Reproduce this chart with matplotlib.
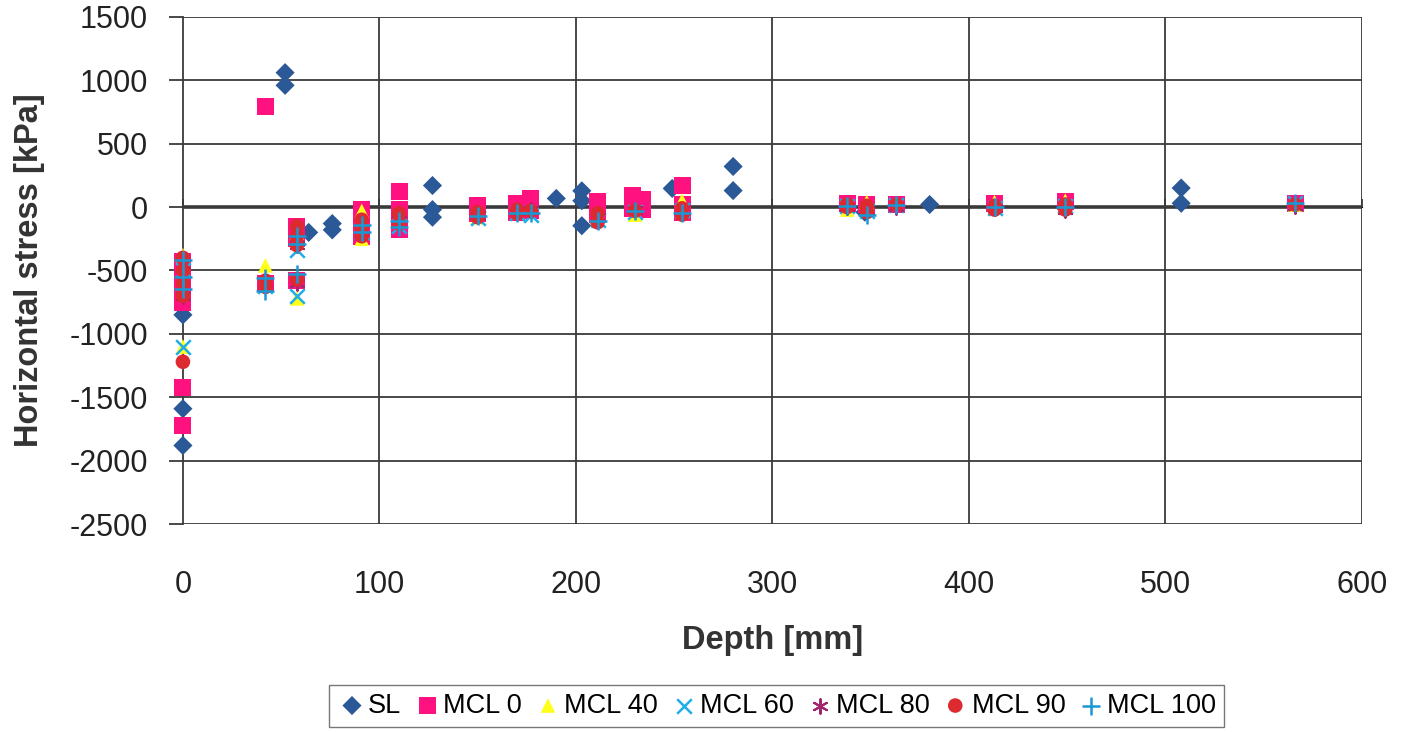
import matplotlib
matplotlib.use("Agg")
import matplotlib.pyplot as plt

plt.rcParams['font.family'] = ['Liberation Sans', 'DejaVu Sans']

# ---- data (depth [mm], horizontal stress [kPa]) ----
sl_x = [0, 0, 0, 52, 52, 64, 76, 76, 127, 127, 127, 190, 203, 203, 203, 249, 280, 280, 347, 380, 508, 508]
sl_y = [-1880, -1590, -850, 1060, 960, -200, -130, -180, 170, -20, -80, 68, 128, 50, -147, 147, 320, 130, -40, 20, 150, 30]

mcl0_x = [0, 0, 0, 0, 0, 0, 0, 42, 42, 58, 58, 58, 91, 91, 91, 110, 110, 110, 110, 150, 150, 170, 170, 177, 177,
          211, 211, 229, 229, 234, 234, 254, 254, 254, 338, 348, 363, 413, 449, 566]
mcl0_y = [-1720, -1420, -750, -680, -600, -520, -430, 790, -600, -150, -250, -580, -20, -150, -230, 120, -20, -100, -180,
          10, -50, 30, -40, 70, -30, 40, -60, 90, -10, 60, -20, 170, 20, -40, 25, 20, 20, 30, 40, 30]

mcl40_x = [0, 0, 42, 58, 58, 91, 91, 110, 150, 211, 230, 254, 254, 338, 348, 413, 449, 566]
mcl40_y = [-380, -1100, -460, -720, -200, -30, -250, -60, -80, -100, -60, 50, -30, -20, 40, 40, 50, 20]

mcl60_x = [0, 0, 42, 58, 58, 91, 110, 150, 170, 177, 211, 230, 254, 338, 348, 363, 413, 449, 566]
mcl60_y = [-1100, -500, -620, -700, -340, -200, -150, -90, -50, -60, -100, -40, -20, 10, -30, 20, -10, 10, 30]

mcl80_x = [0, 0, 42, 58, 58, 91, 110, 150, 170, 177, 211, 230, 254, 338, 348, 363, 413, 449, 566]
mcl80_y = [-450, -700, -600, -300, -600, -180, -100, -60, -30, -20, -80, -20, -20, 0, -20, 0, -10, -20, 10]

mcl90_x = [0, 0, 0, 0, 0, 42, 42, 58, 58, 58, 58, 91, 91, 91, 110, 110, 150, 150, 170, 170, 177,
           211, 211, 230, 254, 254, 338, 338, 348, 348, 363, 413, 413, 449, 449, 566]
mcl90_y = [-400, -500, -600, -700, -1220, -580, -630, -150, -230, -300, -570, -100, -160, -230, -50, -130,
           -40, -80, -20, -50, -30, -50, -120, -30, -10, -60, 0, 20, 10, -40, 20, 10, -20, 20, -20, 20]

mcl100_x = [0, 0, 0, 42, 42, 58, 58, 58, 91, 91, 110, 110, 150, 170, 177, 211, 230, 254, 338, 348, 363, 413, 449, 566]
mcl100_y = [-420, -550, -650, -560, -660, -230, -290, -530, -140, -200, -110, -160, -70, -50, -50, -110, -30, -50,
            10, -60, 20, 0, 0, 30]

x_ticks = [0, 100, 200, 300, 400, 500, 600]
y_ticks = [-2500, -2000, -1500, -1000, -500, 0, 500, 1000, 1500]

fig = plt.figure(figsize=(14.07, 7.32), dpi=100)
ax = fig.add_axes([0.130, 0.284, 0.838, 0.693])

grid_c = '#3a3a3a'
ax.set_xlim(0, 600)
ax.set_ylim(-2500, 1500)
for v in x_ticks[1:]:
    ax.axvline(v, color=grid_c, lw=1.3, zorder=1)
for v in y_ticks:
    if v == 0:
        ax.axhline(v, color=grid_c, lw=2.6, zorder=1)
    else:
        ax.axhline(v, color=grid_c, lw=1.3, zorder=1)

for s in ['top', 'right', 'bottom']:
    ax.spines[s].set_visible(False)
ax.spines['left'].set_color(grid_c)
ax.spines['left'].set_linewidth(1.3)

kw = dict(clip_on=False)
ax.scatter(sl_x, sl_y, marker='D', s=95, color='#2b5897', edgecolors='none', zorder=3, label='SL', **kw)
ax.scatter(mcl0_x, mcl0_y, marker='s', s=150, color='#ff1280', edgecolors='none', zorder=3, label='MCL 0', **kw)
ax.scatter(mcl40_x, mcl40_y, marker='^', s=110, color='#ffff1a', edgecolors='none', zorder=4, label='MCL 40', **kw)
ax.scatter(mcl60_x, mcl60_y, marker='x', s=110, color='#1eaee8', linewidths=1.8, zorder=5, label='MCL 60', **kw)
ax.scatter(mcl80_x, mcl80_y, marker=(6, 2, 0), s=110, color='#a3246f', linewidths=1.5, zorder=6, label='MCL 80', **kw)
ax.scatter(mcl90_x, mcl90_y, marker='o', s=110, color='#dc2a30', edgecolors='none', zorder=7, label='MCL 90', **kw)
ax.scatter(mcl100_x, mcl100_y, marker='+', s=150, color='#1a98d6', linewidths=1.8, zorder=8, label='MCL 100', **kw)

ax.set_xticks(x_ticks)
ax.set_yticks(y_ticks)
ax.set_xticklabels([str(v) for v in x_ticks])
ax.set_yticklabels([str(v) for v in y_ticks])
ax.tick_params(axis='x', length=0, pad=33, labelsize=22, colors='#222222')
ax.tick_params(axis='y', length=10, width=1.3, color=grid_c, pad=15, labelsize=22, labelcolor='#222222')

sec = ax.secondary_xaxis(2500 / 4000)
sec.set_xticks(x_ticks)
sec.set_xticklabels([])
sec.tick_params(axis='x', length=6, width=1.3, color=grid_c, direction='out')
sec.spines['bottom'].set_visible(False)

ax.set_xlabel('Depth [mm]', fontsize=23.5, fontweight='bold', color='#333333', labelpad=18)
ax.set_ylabel('Horizontal stress [kPa]', fontsize=23.5, fontweight='bold', color='#333333', labelpad=18)

leg = fig.legend(loc='center', bbox_to_anchor=(0.552, 0.036), ncol=7, fontsize=19.5,
                 frameon=True, fancybox=False, edgecolor='#555555', handletextpad=0.05,
                 columnspacing=0.4, borderpad=0.3, handlelength=1.1, scatterpoints=1)
leg.get_frame().set_linewidth(1.0)

fig.savefig('out.png', dpi=100, facecolor='white')
